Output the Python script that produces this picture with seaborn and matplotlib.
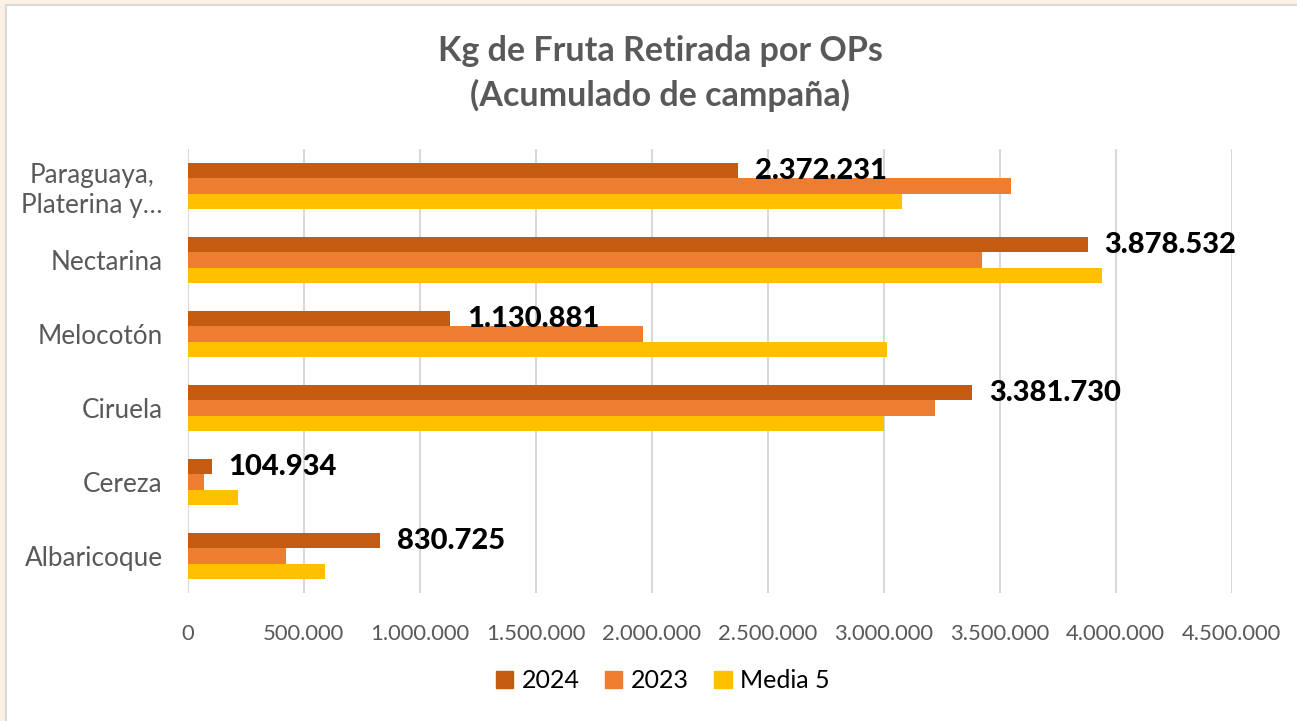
import numpy as np
import pandas as pd
import matplotlib
matplotlib.use("Agg")
import matplotlib.pyplot as plt
from matplotlib.patches import Rectangle
import seaborn as sns

# data (kg)
categories = ['Paraguaya,\nPlaterina y…', 'Nectarina', 'Melocotón', 'Ciruela', 'Cereza', 'Albaricoque']
series = ['2024', '2023', 'Media 5']
kg_2024 = [2372231, 3878532, 1130881, 3381730, 104934, 830725]
kg_2023 = [3547000, 3425000, 1963000, 3220000, 70000, 424000]
kg_media5 = [3078000, 3940000, 3013000, 3002000, 215000, 591000]
x_ticks = [0, 500000, 1000000, 1500000, 2000000, 2500000, 3000000, 3500000, 4000000, 4500000]

colors = {'2024': '#C55A11', '2023': '#ED7D31', 'Media 5': '#FFC000'}

# long table for seaborn
df = pd.DataFrame({
    'fruta': categories * 3,
    'serie': ['2024'] * 6 + ['2023'] * 6 + ['Media 5'] * 6,
    'kg': kg_2024 + kg_2023 + kg_media5,
})

sns.set_theme(style='white')
plt.rcParams['font.family'] = ['Lato', 'DejaVu Sans']

fig = plt.figure(figsize=(12.97, 7.21), dpi=100, facecolor='#FCF1E6')
# white chart area with thin grey border, as in the screenshot
fig.patches.append(Rectangle((6.3 / 1297, -0.02), 1.1, 1.02 - 5 / 721,
                             transform=fig.transFigure, facecolor='white',
                             edgecolor='#D9D9D9', linewidth=1.5, zorder=-1))

ax = fig.add_axes([187.7 / 1297, 1 - 593 / 721, 1044 / 1297, 444 / 721])
ax.set_facecolor('none')

sns.barplot(data=df, x='kg', y='fruta', hue='serie', order=categories,
            hue_order=series, palette=colors, orient='h', width=0.62,
            linewidth=0, saturation=1, ax=ax)

ax.set_xlim(0, 4500000)
ax.set_xticks(x_ticks)
ax.set_xticklabels([f"{v:,.0f}".replace(',', '.') for v in x_ticks])
ax.xaxis.grid(True, color='#D9D9D9', linewidth=1.5)
ax.set_axisbelow(True)
for s in ax.spines.values():
    s.set_visible(False)
ax.tick_params(axis='x', length=0, pad=22, labelsize=15.8, labelcolor='#595959')
ax.tick_params(axis='y', length=0, pad=18, labelsize=18.8, labelcolor='#595959')
for lbl in ax.get_yticklabels():
    lbl.set_multialignment('center')
ax.set_xlabel('')
ax.set_ylabel('')

# labels on the 2024 bars
ax.bar_label(ax.containers[0], labels=[f"{v:,.0f}".replace(',', '.') for v in kg_2024],
             padding=12, fontsize=21, fontweight='black', color='black')

fig.text(0.509, 0.898, 'Kg de Fruta Retirada por OPs\n(Acumulado de campaña)',
         ha='center', va='center', fontsize=24.5, fontweight='bold',
         color='#595959', linespacing=1.45)

ax.legend_.remove()
handles = [Rectangle((0, 0), 1, 1, color=colors[s]) for s in series]
fig.legend(handles, series, loc='center', bbox_to_anchor=(0.511, 0.0555), ncol=3,
           frameon=False, fontsize=18, handlelength=0.7, handleheight=0.7,
           handletextpad=0.35, columnspacing=1.0, labelcolor='#000000')

fig.savefig('out.png', dpi=100, facecolor=fig.get_facecolor())
